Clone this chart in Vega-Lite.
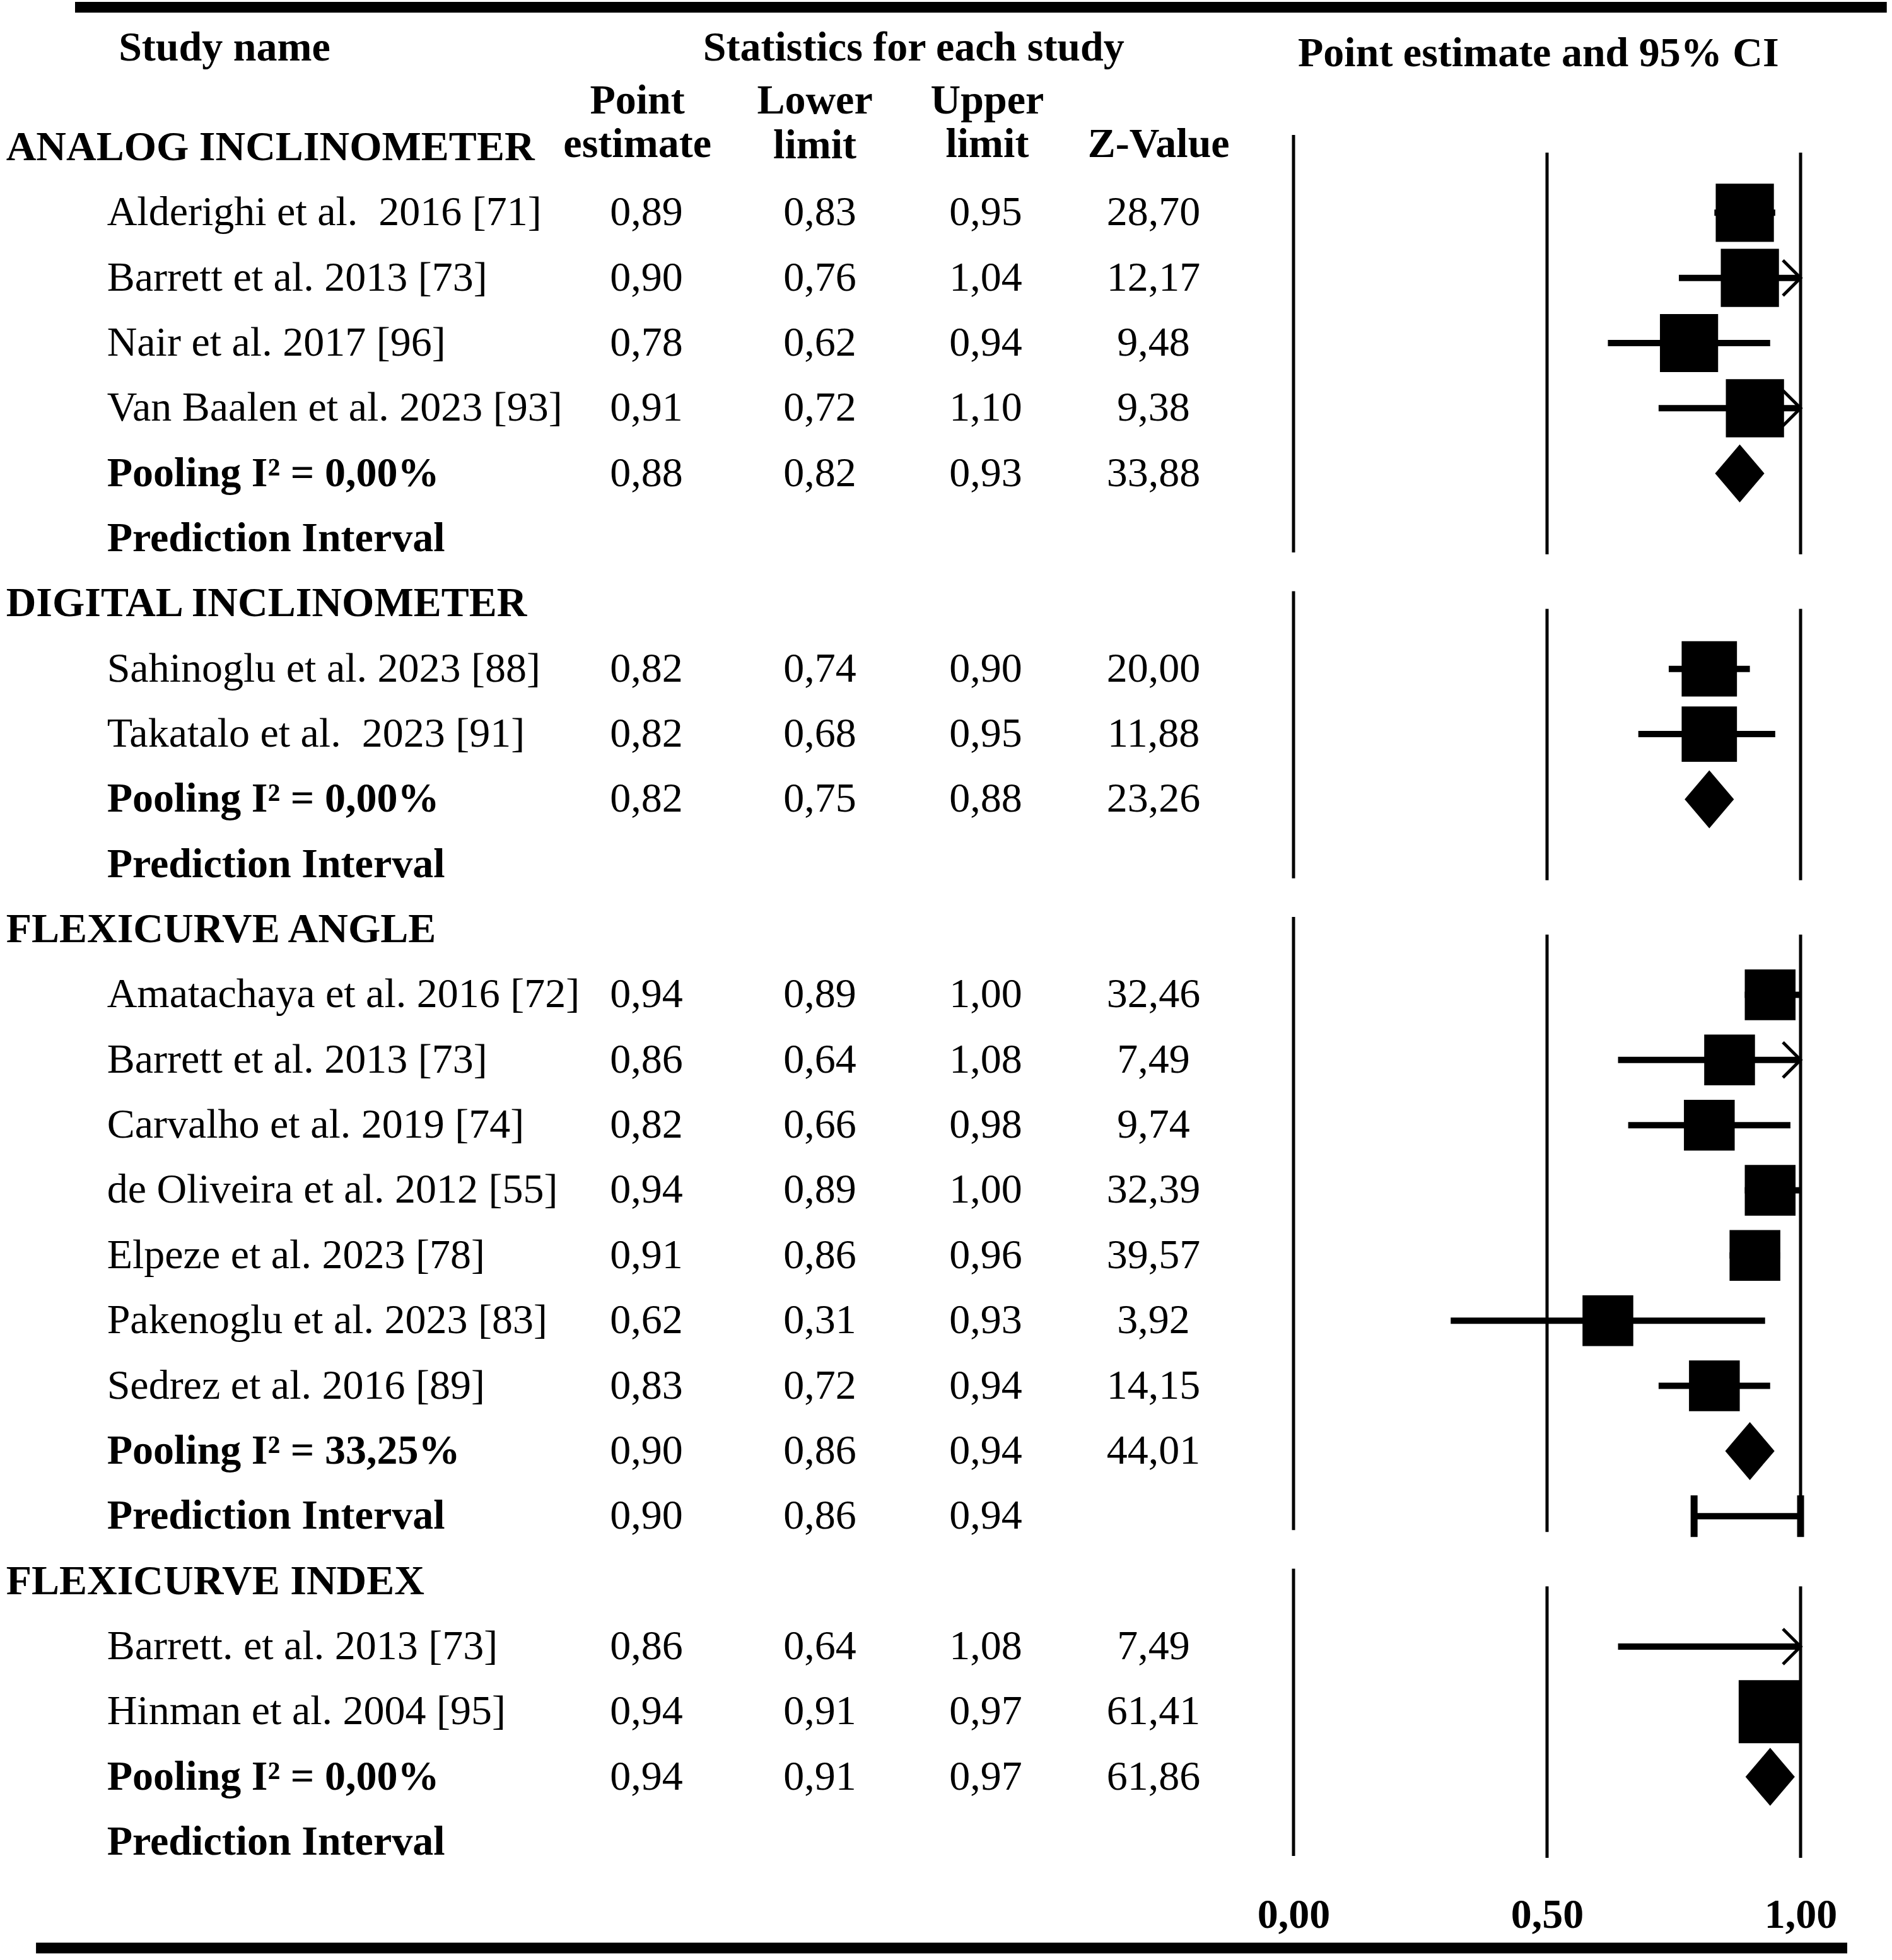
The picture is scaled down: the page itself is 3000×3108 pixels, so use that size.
{
  "$schema": "https://vega.github.io/schema/vega-lite/v6.json",
  "width": 3000,
  "height": 3108,
  "padding": 0,
  "autosize": {"type": "none"},
  "background": "white",
  "config": {
    "view": {"stroke": null},
    "locale": {"number": {"decimal": ",", "thousands": ".", "grouping": [3], "currency": ["", " €"]}},
    "text": {"font": "Liberation Serif", "fontSize": 66, "color": "black", "baseline": "middle"}
  },
  "datasets": {
    "rows": [
      {"row": 0, "group": "ANALOG INCLINOMETER", "label": "ANALOG INCLINOMETER", "kind": "section"},
      {"row": 1, "group": "ANALOG INCLINOMETER", "label": "Alderighi et al.\u00a0 2016 [71]", "kind": "study", "est": 0.89, "lo": 0.83, "hi": 0.95, "z": 28.70, "weight": 1.05},
      {"row": 2, "group": "ANALOG INCLINOMETER", "label": "Barrett et al. 2013 [73]", "kind": "study", "est": 0.90, "lo": 0.76, "hi": 1.04, "z": 12.17, "weight": 1.05},
      {"row": 3, "group": "ANALOG INCLINOMETER", "label": "Nair et al. 2017 [96]", "kind": "study", "est": 0.78, "lo": 0.62, "hi": 0.94, "z": 9.48, "weight": 1.05},
      {"row": 4, "group": "ANALOG INCLINOMETER", "label": "Van Baalen et al. 2023 [93]", "kind": "study", "est": 0.91, "lo": 0.72, "hi": 1.10, "z": 9.38, "weight": 1.05},
      {"row": 5, "group": "ANALOG INCLINOMETER", "label": "Pooling I² = 0,00%", "kind": "pool", "est": 0.88, "lo": 0.82, "hi": 0.93, "z": 33.88},
      {"row": 6, "group": "ANALOG INCLINOMETER", "label": "Prediction Interval", "kind": "pi"},
      {"row": 7, "group": "DIGITAL INCLINOMETER", "label": "DIGITAL INCLINOMETER", "kind": "section"},
      {"row": 8, "group": "DIGITAL INCLINOMETER", "label": "Sahinoglu et al. 2023 [88]", "kind": "study", "est": 0.82, "lo": 0.74, "hi": 0.90, "z": 20.00, "weight": 0.95},
      {"row": 9, "group": "DIGITAL INCLINOMETER", "label": "Takatalo et al.\u00a0 2023 [91]", "kind": "study", "est": 0.82, "lo": 0.68, "hi": 0.95, "z": 11.88, "weight": 0.95},
      {"row": 10, "group": "DIGITAL INCLINOMETER", "label": "Pooling I² = 0,00%", "kind": "pool", "est": 0.82, "lo": 0.75, "hi": 0.88, "z": 23.26},
      {"row": 11, "group": "DIGITAL INCLINOMETER", "label": "Prediction Interval", "kind": "pi"},
      {"row": 12, "group": "FLEXICURVE ANGLE", "label": "FLEXICURVE ANGLE", "kind": "section"},
      {"row": 13, "group": "FLEXICURVE ANGLE", "label": "Amatachaya et al. 2016 [72]", "kind": "study", "est": 0.94, "lo": 0.89, "hi": 1.00, "z": 32.46, "weight": 0.8},
      {"row": 14, "group": "FLEXICURVE ANGLE", "label": "Barrett et al. 2013 [73]", "kind": "study", "est": 0.86, "lo": 0.64, "hi": 1.08, "z": 7.49, "weight": 0.8},
      {"row": 15, "group": "FLEXICURVE ANGLE", "label": "Carvalho et al. 2019 [74]", "kind": "study", "est": 0.82, "lo": 0.66, "hi": 0.98, "z": 9.74, "weight": 0.8},
      {"row": 16, "group": "FLEXICURVE ANGLE", "label": "de Oliveira et al. 2012 [55]", "kind": "study", "est": 0.94, "lo": 0.89, "hi": 1.00, "z": 32.39, "weight": 0.8},
      {"row": 17, "group": "FLEXICURVE ANGLE", "label": "Elpeze et al. 2023 [78]", "kind": "study", "est": 0.91, "lo": 0.86, "hi": 0.96, "z": 39.57, "weight": 0.8},
      {"row": 18, "group": "FLEXICURVE ANGLE", "label": "Pakenoglu et al. 2023 [83]", "kind": "study", "est": 0.62, "lo": 0.31, "hi": 0.93, "z": 3.92, "weight": 0.8},
      {"row": 19, "group": "FLEXICURVE ANGLE", "label": "Sedrez et al. 2016 [89]", "kind": "study", "est": 0.83, "lo": 0.72, "hi": 0.94, "z": 14.15, "weight": 0.8},
      {"row": 20, "group": "FLEXICURVE ANGLE", "label": "Pooling I² = 33,25%", "kind": "pool", "est": 0.90, "lo": 0.86, "hi": 0.94, "z": 44.01},
      {"row": 21, "group": "FLEXICURVE ANGLE", "label": "Prediction Interval", "kind": "pi", "est": 0.90, "lo": 0.86, "hi": 0.94, "pi_lo": 0.79, "pi_hi": 1.0},
      {"row": 22, "group": "FLEXICURVE INDEX", "label": "FLEXICURVE INDEX", "kind": "section"},
      {"row": 23, "group": "FLEXICURVE INDEX", "label": "Barrett. et al. 2013 [73]", "kind": "study", "est": 0.86, "lo": 0.64, "hi": 1.08, "z": 7.49, "weight": 0},
      {"row": 24, "group": "FLEXICURVE INDEX", "label": "Hinman et al. 2004 [95]", "kind": "study", "est": 0.94, "lo": 0.91, "hi": 0.97, "z": 61.41, "weight": 1.23},
      {"row": 25, "group": "FLEXICURVE INDEX", "label": "Pooling I² = 0,00%", "kind": "pool", "est": 0.94, "lo": 0.91, "hi": 0.97, "z": 61.86},
      {"row": 26, "group": "FLEXICURVE INDEX", "label": "Prediction Interval", "kind": "pi"}
    ]
  },
  "data": {"name": "rows"},
  "layer": [
    {
      "transform": [{"filter": "datum.kind == 'study' && datum.hi <= 1"}],
      "mark": {"type": "rule", "strokeWidth": 10, "color": "black"},
      "encoding": {
        "x": {"field": "lo", "type": "quantitative",
              "scale": {"domain": [-2.551, 1.1803], "nice": false, "zero": false},
              "axis": {"values": [0, 0.5, 1], "format": ".2f", "title": null, "domain": false, "ticks": false, "tickSize": 0, "grid": false,
                       "labelFont": "Liberation Serif", "labelFontWeight": "bold", "labelFontSize": 66, "labelColor": "black",
                       "offset": -72, "labelBaseline": "middle", "labelPadding": 0, "labelFlush": false, "labelOverlap": false}},
        "x2": {"field": "hi"},
        "y": {"field": "row", "type": "quantitative", "scale": {"domain": [-2.264, 27.81], "reverse": true, "nice": false, "zero": false}, "axis": null}
      }
    },
    {
      "transform": [{"filter": "datum.kind == 'study' && datum.hi > 1"}],
      "mark": {"type": "rule", "strokeWidth": 10, "color": "black"},
      "encoding": {
        "x": {"field": "lo", "type": "quantitative"},
        "x2": {"datum": 1},
        "y": {"field": "row", "type": "quantitative", "axis": null}
      }
    },
    {
      "transform": [{"filter": "datum.kind == 'study' && datum.hi > 1"}],
      "mark": {"type": "point", "shape": "M-1,-1L0,0L-1,1", "filled": false, "stroke": "black", "strokeWidth": 5, "size": 3136, "opacity": 1},
      "encoding": {
        "x": {"datum": 1, "type": "quantitative"},
        "y": {"field": "row", "type": "quantitative", "axis": null}
      }
    },
    {
      "transform": [{"filter": "datum.kind == 'study'"}],
      "mark": {"type": "square", "filled": true, "color": "black", "opacity": 1},
      "encoding": {
        "x": {"field": "est", "type": "quantitative"},
        "y": {"field": "row", "type": "quantitative", "axis": null},
        "size": {"field": "weight", "type": "quantitative", "scale": {"domain": [0, 1], "range": [0, 8100]}, "legend": null}
      }
    },
    {
      "transform": [{"filter": "datum.kind == 'pool'"}],
      "mark": {"type": "point", "shape": "M-0.85,0L0,-1L0.85,0L0,1Z", "filled": true, "color": "black", "size": 8464, "opacity": 1},
      "encoding": {
        "x": {"field": "est", "type": "quantitative"},
        "y": {"field": "row", "type": "quantitative", "axis": null}
      }
    },
    {
      "transform": [{"filter": "isValid(datum.pi_lo)"}],
      "mark": {"type": "rule", "strokeWidth": 10, "color": "black"},
      "encoding": {
        "x": {"field": "pi_lo", "type": "quantitative"},
        "x2": {"field": "pi_hi"},
        "y": {"field": "row", "type": "quantitative", "axis": null}
      }
    },
    {
      "transform": [{"filter": "isValid(datum.pi_lo)"}],
      "mark": {"type": "rule", "strokeWidth": 11, "color": "black", "yOffset": -33, "y2Offset": 33},
      "encoding": {
        "x": {"field": "pi_lo", "type": "quantitative"},
        "y": {"field": "row", "type": "quantitative", "axis": null},
        "y2": {"field": "row"}
      }
    },
    {
      "transform": [{"filter": "isValid(datum.pi_hi)"}],
      "mark": {"type": "rule", "strokeWidth": 11, "color": "black", "yOffset": -33, "y2Offset": 33},
      "encoding": {
        "x": {"field": "pi_hi", "type": "quantitative"},
        "y": {"field": "row", "type": "quantitative", "axis": null},
        "y2": {"field": "row"}
      }
    },
    {
      "transform": [{"aggregate": [{"op": "min", "field": "row", "as": "first"}, {"op": "max", "field": "row", "as": "last"}], "groupby": ["group"]}],
      "mark": {"type": "rule", "strokeWidth": 5, "color": "black", "yOffset": -20, "y2Offset": 22},
      "encoding": {
        "x": {"datum": 0, "type": "quantitative"},
        "y": {"field": "first", "type": "quantitative", "axis": null},
        "y2": {"field": "last"}
      }
    },
    {
      "transform": [{"aggregate": [{"op": "min", "field": "row", "as": "first"}, {"op": "max", "field": "row", "as": "last"}], "groupby": ["group"]}],
      "mark": {"type": "rule", "strokeWidth": 5, "color": "black", "yOffset": 8, "y2Offset": 25},
      "encoding": {
        "x": {"datum": 0.5, "type": "quantitative"},
        "y": {"field": "first", "type": "quantitative", "axis": null},
        "y2": {"field": "last"}
      }
    },
    {
      "transform": [{"aggregate": [{"op": "min", "field": "row", "as": "first"}, {"op": "max", "field": "row", "as": "last"}], "groupby": ["group"]}],
      "mark": {"type": "rule", "strokeWidth": 5, "color": "black", "yOffset": 8, "y2Offset": 25},
      "encoding": {
        "x": {"datum": 1, "type": "quantitative"},
        "y": {"field": "first", "type": "quantitative", "axis": null},
        "y2": {"field": "last"}
      }
    },
    {
      "transform": [{"filter": "datum.kind == 'section'"}],
      "mark": {"type": "text", "align": "left", "fontWeight": "bold"},
      "encoding": {
        "x": {"datum": -2.539, "type": "quantitative"},
        "y": {"field": "row", "type": "quantitative", "axis": null},
        "text": {"field": "label"}
      }
    },
    {
      "transform": [{"filter": "datum.kind == 'study'"}],
      "mark": {"type": "text", "align": "left"},
      "encoding": {
        "x": {"datum": -2.34, "type": "quantitative"},
        "y": {"field": "row", "type": "quantitative", "axis": null},
        "text": {"field": "label"}
      }
    },
    {
      "transform": [{"filter": "datum.kind == 'pool' || datum.kind == 'pi'"}],
      "mark": {"type": "text", "align": "left", "fontWeight": "bold"},
      "encoding": {
        "x": {"datum": -2.34, "type": "quantitative"},
        "y": {"field": "row", "type": "quantitative", "axis": null},
        "text": {"field": "label"}
      }
    },
    {
      "transform": [{"filter": "isValid(datum.est)"}],
      "mark": {"type": "text", "align": "center"},
      "encoding": {
        "x": {"datum": -1.276, "type": "quantitative"},
        "y": {"field": "row", "type": "quantitative", "axis": null},
        "text": {"field": "est", "type": "quantitative", "format": ".2f"}
      }
    },
    {
      "transform": [{"filter": "isValid(datum.lo)"}],
      "mark": {"type": "text", "align": "center"},
      "encoding": {
        "x": {"datum": -0.934, "type": "quantitative"},
        "y": {"field": "row", "type": "quantitative", "axis": null},
        "text": {"field": "lo", "type": "quantitative", "format": ".2f"}
      }
    },
    {
      "transform": [{"filter": "isValid(datum.hi)"}],
      "mark": {"type": "text", "align": "center"},
      "encoding": {
        "x": {"datum": -0.607, "type": "quantitative"},
        "y": {"field": "row", "type": "quantitative", "axis": null},
        "text": {"field": "hi", "type": "quantitative", "format": ".2f"}
      }
    },
    {
      "transform": [{"filter": "isValid(datum.z)"}],
      "mark": {"type": "text", "align": "center"},
      "encoding": {
        "x": {"datum": -0.276, "type": "quantitative"},
        "y": {"field": "row", "type": "quantitative", "axis": null},
        "text": {"field": "z", "type": "quantitative", "format": ".2f"}
      }
    },
    {
      "data": {"values": [{}]},
      "mark": {"type": "text", "align": "left", "fontWeight": "bold"},
      "encoding": {
        "x": {"datum": -2.317, "type": "quantitative"},
        "y": {"datum": -1.53, "type": "quantitative", "axis": null},
        "text": {"value": "Study name"}
      }
    },
    {
      "data": {"values": [{}]},
      "mark": {"type": "text", "align": "center", "fontWeight": "bold"},
      "encoding": {
        "x": {"datum": -0.749, "type": "quantitative"},
        "y": {"datum": -1.53, "type": "quantitative", "axis": null},
        "text": {"value": "Statistics for each study"}
      }
    },
    {
      "data": {"values": [{}]},
      "mark": {"type": "text", "align": "center", "fontWeight": "bold"},
      "encoding": {
        "x": {"datum": 0.483, "type": "quantitative"},
        "y": {"datum": -1.44, "type": "quantitative", "axis": null},
        "text": {"value": "Point estimate and 95% CI"}
      }
    },
    {
      "data": {"values": [{}]},
      "mark": {"type": "text", "align": "center", "fontWeight": "bold"},
      "encoding": {
        "x": {"datum": -1.294, "type": "quantitative"},
        "y": {"datum": -0.72, "type": "quantitative", "axis": null},
        "text": {"value": "Point"}
      }
    },
    {
      "data": {"values": [{}]},
      "mark": {"type": "text", "align": "center", "fontWeight": "bold"},
      "encoding": {
        "x": {"datum": -1.294, "type": "quantitative"},
        "y": {"datum": -0.05, "type": "quantitative", "axis": null},
        "text": {"value": "estimate"}
      }
    },
    {
      "data": {"values": [{}]},
      "mark": {"type": "text", "align": "center", "fontWeight": "bold"},
      "encoding": {
        "x": {"datum": -0.944, "type": "quantitative"},
        "y": {"datum": -0.72, "type": "quantitative", "axis": null},
        "text": {"value": "Lower"}
      }
    },
    {
      "data": {"values": [{}]},
      "mark": {"type": "text", "align": "center", "fontWeight": "bold"},
      "encoding": {
        "x": {"datum": -0.944, "type": "quantitative"},
        "y": {"datum": -0.03, "type": "quantitative", "axis": null},
        "text": {"value": "limit"}
      }
    },
    {
      "data": {"values": [{}]},
      "mark": {"type": "text", "align": "center", "fontWeight": "bold"},
      "encoding": {
        "x": {"datum": -0.604, "type": "quantitative"},
        "y": {"datum": -0.72, "type": "quantitative", "axis": null},
        "text": {"value": "Upper"}
      }
    },
    {
      "data": {"values": [{}]},
      "mark": {"type": "text", "align": "center", "fontWeight": "bold"},
      "encoding": {
        "x": {"datum": -0.604, "type": "quantitative"},
        "y": {"datum": -0.05, "type": "quantitative", "axis": null},
        "text": {"value": "limit"}
      }
    },
    {
      "data": {"values": [{}]},
      "mark": {"type": "text", "align": "center", "fontWeight": "bold"},
      "encoding": {
        "x": {"datum": -0.266, "type": "quantitative"},
        "y": {"datum": -0.05, "type": "quantitative", "axis": null},
        "text": {"value": "Z-Value"}
      }
    },
    {
      "data": {"values": [{}]},
      "mark": {"type": "rule", "strokeWidth": 17, "color": "black"},
      "encoding": {
        "x": {"datum": -2.403, "type": "quantitative"},
        "x2": {"datum": 1.17},
        "y": {"datum": -2.153, "type": "quantitative", "axis": null}
      }
    },
    {
      "data": {"values": [{}]},
      "mark": {"type": "rule", "strokeWidth": 17, "color": "black"},
      "encoding": {
        "x": {"datum": -2.48, "type": "quantitative"},
        "x2": {"datum": 1.092},
        "y": {"datum": 27.625, "type": "quantitative", "axis": null}
      }
    }
  ]
}
